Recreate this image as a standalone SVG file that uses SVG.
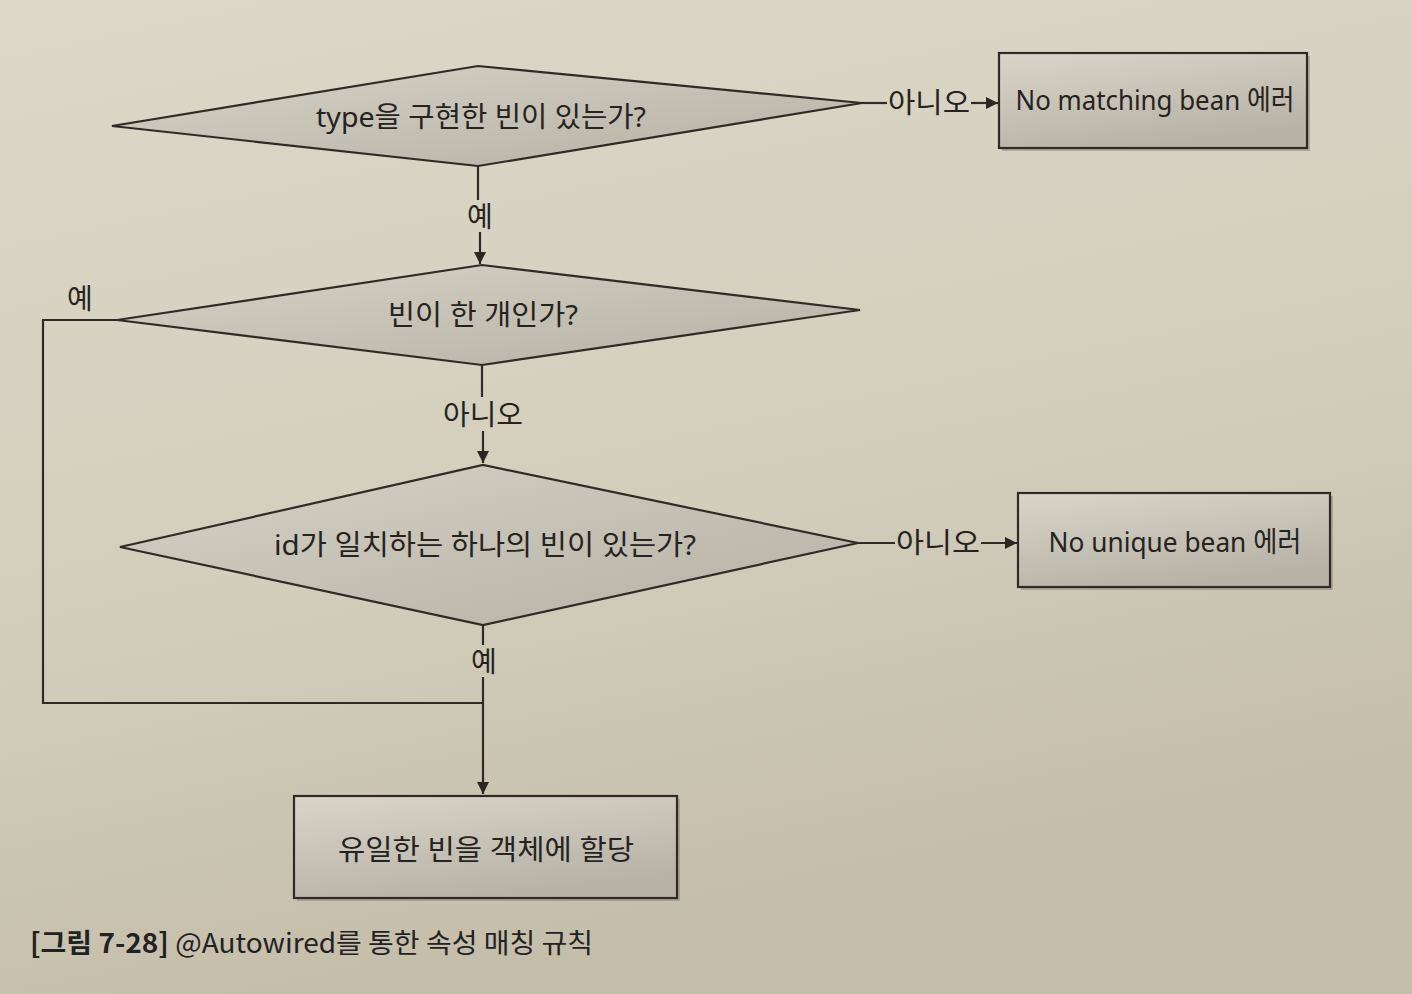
<svg xmlns="http://www.w3.org/2000/svg" width="1412" height="994" viewBox="0 0 1412 994">
<defs>
<linearGradient id="bg" x1="0" y1="0" x2="0.3" y2="1">
<stop offset="0" stop-color="#dcd8c8"/>
<stop offset="0.6" stop-color="#d3cebc"/>
<stop offset="1" stop-color="#c3bda9"/>
</linearGradient>
<linearGradient id="fill" x1="0" y1="0" x2="1" y2="1">
<stop offset="0" stop-color="#d6d2c5"/>
<stop offset="1" stop-color="#b5b0a4"/>
</linearGradient>
<linearGradient id="boxfill" x1="0" y1="0" x2="0.4" y2="1">
<stop offset="0" stop-color="#d9d5c9"/>
<stop offset="1" stop-color="#b8b3a7"/>
</linearGradient>
<marker id="arr" viewBox="0 0 10 10" refX="10" refY="5" markerWidth="12" markerHeight="12" markerUnits="userSpaceOnUse" orient="auto">
<path d="M0,0 L10,5 L0,10 z" fill="#2a2723"/>
</marker>
<style>
.shape{stroke:#2e2b27;stroke-width:2.2;fill:url(#fill)}
.box{stroke:#2e2b27;stroke-width:2.2;fill:url(#boxfill)}
.shadow{fill:#8f8a80;opacity:0.6}
.line{stroke:#2e2b27;stroke-width:2.2;fill:none}
.t{font-family:"Noto Sans","Noto Sans CJK KR",sans-serif;font-size:28px;fill:#26231f;text-anchor:middle;dominant-baseline:central}
.lbl{font-family:"Noto Sans CJK KR","Noto Sans",sans-serif;font-size:28px;fill:#26231f;text-anchor:middle;dominant-baseline:central}
.cap{font-family:"Noto Sans CJK KR","Noto Sans",sans-serif;font-size:27px;fill:#222}
</style>
</defs>
<rect x="0" y="0" width="1412" height="994" fill="url(#bg)"/>

<g id="connectors">
<path class="line" d="M862,103 L887,103"/>
<path class="line" d="M971,103 L998,103" marker-end="url(#arr)"/>
<path class="line" d="M478,166 L478,200"/>
<path class="line" d="M480,232 L480,264" marker-end="url(#arr)"/>
<path class="line" d="M117,320 L43,320 L43,703 L483,703"/>
<path class="line" d="M482,365 L482,397"/>
<path class="line" d="M483,431 L483,463" marker-end="url(#arr)"/>
<path class="line" d="M858,543 L895,543"/>
<path class="line" d="M981,543 L1017,543" marker-end="url(#arr)"/>
<path class="line" d="M483,625 L483,645"/>
<path class="line" d="M483,677 L483,794" marker-end="url(#arr)"/>
<text class="lbl" x="929" y="101" textLength="82" lengthAdjust="spacingAndGlyphs">아니오</text>
<text class="lbl" x="480" y="215">예</text>
<text class="lbl" x="80" y="297">예</text>
<text class="lbl" x="483" y="413" textLength="80" lengthAdjust="spacingAndGlyphs">아니오</text>
<text class="lbl" x="938" y="541" textLength="84" lengthAdjust="spacingAndGlyphs">아니오</text>
<text class="lbl" x="484" y="660">예</text>
</g>

<g id="d1">
<polygon class="shape" points="112,126 478,66 862,103 478,166"/>
<text class="t" x="481" y="116" textLength="330" lengthAdjust="spacingAndGlyphs">type을 구현한 빈이 있는가?</text>
</g>

<g id="b1">
<rect class="shadow" x="1002" y="56" width="308" height="95"/>
<rect class="box" x="999" y="53" width="308" height="95"/>
<text class="t" x="1155" y="99" textLength="279" lengthAdjust="spacingAndGlyphs">No matching bean 에러</text>
</g>

<g id="d2">
<polygon class="shape" points="117,320 482,265 860,310 482,365"/>
<text class="t" x="483" y="314" textLength="190" lengthAdjust="spacingAndGlyphs">빈이 한 개인가?</text>
</g>

<g id="d3">
<polygon class="shape" points="120,547 483,465 858,543 483,625"/>
<text class="t" x="485" y="544" textLength="422" lengthAdjust="spacingAndGlyphs">id가 일치하는 하나의 빈이 있는가?</text>
</g>

<g id="b2">
<rect class="shadow" x="1021" y="496" width="312" height="94"/>
<rect class="box" x="1018" y="493" width="312" height="94"/>
<text class="t" x="1175" y="541" textLength="253" lengthAdjust="spacingAndGlyphs">No unique bean 에러</text>
</g>

<g id="b3">
<rect class="shadow" x="297" y="799" width="383" height="102"/>
<rect class="box" x="294" y="796" width="383" height="102"/>
<text class="t" x="486" y="849" textLength="296" lengthAdjust="spacingAndGlyphs">유일한 빈을 객체에 할당</text>
</g>

<g id="caption">
<text class="cap" x="30" y="953" textLength="563" lengthAdjust="spacingAndGlyphs"><tspan font-weight="bold">[그림 7-28]</tspan> @Autowired를 통한 속성 매칭 규칙</text>
</g>
</svg>
